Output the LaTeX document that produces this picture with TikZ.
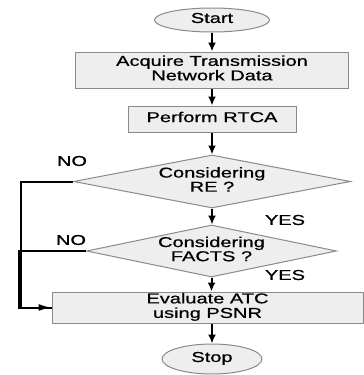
\documentclass[tikz,border=0pt]{standalone}
\usepackage{fontspec}
\setmainfont[FakeBold=0.6]{Liberation Sans}
\usepackage{graphicx}
\usetikzlibrary{shapes.geometric,arrows.meta}
\newcommand\wtxt[1]{\scalebox{1.4}[1]{\begin{tabular}{@{}c@{}}#1\end{tabular}}}
\definecolor{boxfill}{HTML}{EEEEEE}
\definecolor{boxline}{HTML}{8A8A8A}
\tikzset{
  base/.style={draw=boxline, fill=boxfill, line width=1pt, inner sep=0pt,
    font=\fontsize{14.3}{13.8}\selectfont},
  procbox/.style={base, rectangle},
  termbox/.style={base, ellipse},
  decbox/.style={base, diamond},
  lbl/.style={font=\fontsize{14.3}{13.8}\selectfont, inner sep=0pt},
  flow/.style={line width=2pt, -{Latex[length=9pt,width=8pt]}},
  side/.style={line width=2pt},
  sidearrow/.style={line width=2pt, -{Latex[length=13pt,width=7pt]}}
}
\begin{document}
\begin{tikzpicture}[x=1pt,y=-1pt]
\useasboundingbox (0,0) rectangle (364,375);
\node[termbox, minimum width=115pt, minimum height=24pt] (start) at (212,20) {\wtxt{Start}};
\node[procbox, minimum width=273pt, minimum height=36pt] (acq) at (212,70) {\wtxt{Acquire Transmission\\Network Data}};
\node[procbox, minimum width=168pt, minimum height=26pt] (rtca) at (212,119) {\wtxt{Perform RTCA}};
\node[decbox, aspect=5.2, minimum width=277pt, minimum height=53pt] (re) at (212,181.5) {\wtxt{Considering\\RE ?}};
\node[decbox, aspect=4.8, minimum width=250pt, minimum height=52pt] (facts) at (211.5,251) {\wtxt{Considering\\FACTS ?}};
\node[procbox, minimum width=311pt, minimum height=31pt] (eval) at (207.5,307.5) {\wtxt{Evaluate ATC\\using PSNR}};
\node[termbox, minimum width=100pt, minimum height=30pt] (stop) at (212,359) {\wtxt{Stop}};

\node[lbl] (no1) at (72,163) {\wtxt{NO}};
\node[lbl] (no2) at (71,242) {\wtxt{NO}};
\node[lbl] (yes1) at (285,222) {\wtxt{YES}};
\node[lbl] (yes2) at (285,277) {\wtxt{YES}};

\coordinate (c1) at (21,181.5);
\coordinate (c2) at (18.5,251);

\draw[flow] (start) -- (acq);
\draw[flow] (acq) -- (rtca);
\draw[flow] (rtca) -- (re);
\draw[flow] (re) -- (re.south |- facts.north);
\draw[flow] (facts.south) -- (facts.south |- eval.north);
\draw[flow] (stop.north |- eval.south) -- (stop);

\draw[side] (re.west) -- (c1) |- (eval.west);
\draw[sidearrow] (facts.west) -- (c2) |- (eval.west);
\end{tikzpicture}
\end{document}
